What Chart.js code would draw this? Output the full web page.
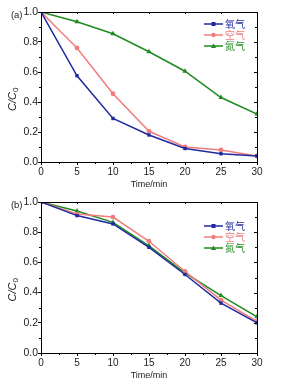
<!DOCTYPE html>
<html>
<head>
<meta charset="utf-8">
<script src="https://cdn.jsdelivr.net/npm/chart.js@4.4.1/dist/chart.umd.min.js"></script>
<style>
  html, body { margin: 0; padding: 0; background: #fff; }
  .panel { position: relative; width: 281px; }
  #panelA { height: 190px; }
  #panelB { height: 195px; }
</style>
</head>
<body>
<div class="panel" id="panelA"><canvas id="chartA"></canvas></div>
<div class="panel" id="panelB"><canvas id="chartB"></canvas></div>
<script>
// ---------------------------------------------------------
// Data
// ---------------------------------------------------------
const TIMES = [0, 5, 10, 15, 20, 25, 30];
const GAS_NAMES = ['氧气', '空气', '氮气'];

// panel (a)
const A_OXYGEN = [1.0, 0.575, 0.29, 0.18, 0.09, 0.055, 0.04];
const A_AIR = [1.0, 0.76, 0.455, 0.205, 0.10, 0.08, 0.04];
const A_NITROGEN = [1.0, 0.935, 0.855, 0.735, 0.605, 0.43, 0.32];

// panel (b)
const B_OXYGEN = [1.0, 0.91, 0.855, 0.70, 0.52, 0.33, 0.20];
const B_AIR = [1.0, 0.92, 0.90, 0.74, 0.54, 0.35, 0.21];
const B_NITROGEN = [1.0, 0.94, 0.865, 0.71, 0.53, 0.38, 0.24];

const BLUE = '#1f2a9e';
const PINK = '#f07c7c';
const GREEN = '#1f8a1f';
const COLORS = [BLUE, PINK, GREEN];
const MARKERS = ['rect', 'circle', 'triangle'];
const FONT = 'Liberation Sans, Arial, sans-serif';

// ---------------------------------------------------------
// Frame, minor ticks, legend, labels
// ---------------------------------------------------------
const decorPlugin = {
  id: 'decor',
  afterDraw(chart, args, opts) {
    const { ctx, chartArea: a, scales } = chart;
    const x = scales.x, y = scales.y;
    ctx.save();
    ctx.strokeStyle = '#000';
    ctx.lineWidth = 1;
    ctx.strokeRect(a.left + 0.5, a.top + 0.5, a.right - a.left, a.bottom - a.top);

    ctx.beginPath();
    // minor ticks on x (outward) and top (inward)
    for (let v = 2.5; v < 30; v += 5) {
      const px = Math.round(x.getPixelForValue(v)) + 0.5;
      ctx.moveTo(px, a.bottom); ctx.lineTo(px, a.bottom + 2);
    }
    for (let v = 0; v <= 30; v += 5) {
      const px = Math.round(x.getPixelForValue(v)) + 0.5;
      ctx.moveTo(px, a.top); ctx.lineTo(px, a.top + 2);
    }
    // minor ticks on y (outward) and right (inward)
    for (let v = 0.1; v < 1; v += 0.2) {
      const py = Math.round(y.getPixelForValue(v)) + 0.5;
      ctx.moveTo(a.left, py); ctx.lineTo(a.left - 2, py);
      ctx.moveTo(a.right, py); ctx.lineTo(a.right - 2, py);
    }
    for (let v = 0; v <= 1.0001; v += 0.2) {
      const py = Math.round(y.getPixelForValue(v)) + 0.5;
      ctx.moveTo(a.right, py); ctx.lineTo(a.right - 3, py);
    }
    ctx.stroke();

    // panel label
    ctx.fillStyle = '#222';
    ctx.font = '9.5px ' + FONT;
    ctx.textBaseline = 'middle';
    ctx.textAlign = 'right';
    ctx.fillText(opts.label, 22.5, a.top + 3);

    // y title C/C0
    ctx.save();
    ctx.translate(13, a.top + (a.bottom - a.top) * 0.58);
    ctx.rotate(-Math.PI / 2);
    ctx.font = 'italic 11px ' + FONT;
    ctx.textAlign = 'left';
    ctx.textBaseline = 'middle';
    const main = 'C/C';
    const w = ctx.measureText(main).width;
    ctx.fillStyle = '#222';
    ctx.fillText(main, -(w + 5) / 2, 0);
    ctx.font = '8px ' + FONT;
    ctx.fillText('0', -(w + 5) / 2 + w, 3);
    ctx.restore();

    // legend inside plot
    chart.data.datasets.forEach((ds, i) => {
      const ly = a.top + opts.legendTop + i * 11;
      const x0 = a.right - 53, x1 = a.right - 34;
      ctx.strokeStyle = ds.borderColor;
      ctx.lineWidth = 1.5;
      ctx.beginPath();
      ctx.moveTo(x0, ly); ctx.lineTo(x1, ly);
      ctx.stroke();
      ctx.fillStyle = ds.borderColor;
      const cx = (x0 + x1) / 2;
      ctx.beginPath();
      if (ds.pointStyle === 'rect') ctx.rect(cx - 2, ly - 2, 4, 4);
      else if (ds.pointStyle === 'circle') ctx.arc(cx, ly, 2.2, 0, Math.PI * 2);
      else { ctx.moveTo(cx, ly - 2.6); ctx.lineTo(cx + 2.6, ly + 2); ctx.lineTo(cx - 2.6, ly + 2); ctx.closePath(); }
      ctx.fill();
      ctx.font = '10px "Noto Sans CJK SC", sans-serif';
      ctx.textAlign = 'left';
      ctx.textBaseline = 'middle';
      ctx.fillText(ds.label, x1 + 2, ly);
    });
    ctx.restore();
  }
};

function makeDatasets(series) {
  return series.map((vals, i) => ({
    label: GAS_NAMES[i],
    data: TIMES.map((t, j) => ({ x: t, y: vals[j] })),
    borderColor: COLORS[i],
    backgroundColor: COLORS[i],
    borderWidth: 1.5,
    pointStyle: MARKERS[i],
    pointRadius: i === 2 ? 3 : 2.4,
    pointBorderWidth: 0,
    tension: 0,
  }));
}

function createPanel(canvasId, series, label, legendTop, bottomPad) {
  const ctx = document.getElementById(canvasId).getContext('2d');
  return new Chart(ctx, {
    type: 'line',
    data: { datasets: makeDatasets(series) },
    options: {
      responsive: true,
      maintainAspectRatio: false,
      animation: false,
      layout: { padding: { left: 0, right: 24, top: 12, bottom: bottomPad } },
      plugins: {
        legend: { display: false },
        tooltip: { enabled: false },
        decor: { label, legendTop },
      },
      scales: {
        x: {
          type: 'linear',
          min: 0, max: 30,
          grid: { display: true, drawOnChartArea: false, color: '#000', tickLength: 3 },
          border: { color: '#000' },
          ticks: { stepSize: 5, color: '#222', padding: 1, maxRotation: 0, font: { family: FONT, size: 10 } },
          title: { display: true, text: 'Time/min', color: '#222', padding: { top: 0, bottom: 0 }, font: { family: FONT, size: 9 } },
          afterFit(scale) { scale.height = 28; },
        },
        y: {
          min: 0, max: 1,
          grid: { display: true, drawOnChartArea: false, color: '#000', tickLength: 3 },
          border: { color: '#000' },
          ticks: { stepSize: 0.2, color: '#222', padding: 0, font: { family: FONT, size: 10.5 }, callback: v => v.toFixed(1) },
          afterFit(scale) { scale.width = 41; },
        },
      },
    },
    plugins: [decorPlugin],
  });
}

createPanel('chartA', [A_OXYGEN, A_AIR, A_NITROGEN], '(a)', 12, 0);
createPanel('chartB', [B_OXYGEN, B_AIR, B_NITROGEN], '(b)', 24, 4);
</script>
</body>
</html>
